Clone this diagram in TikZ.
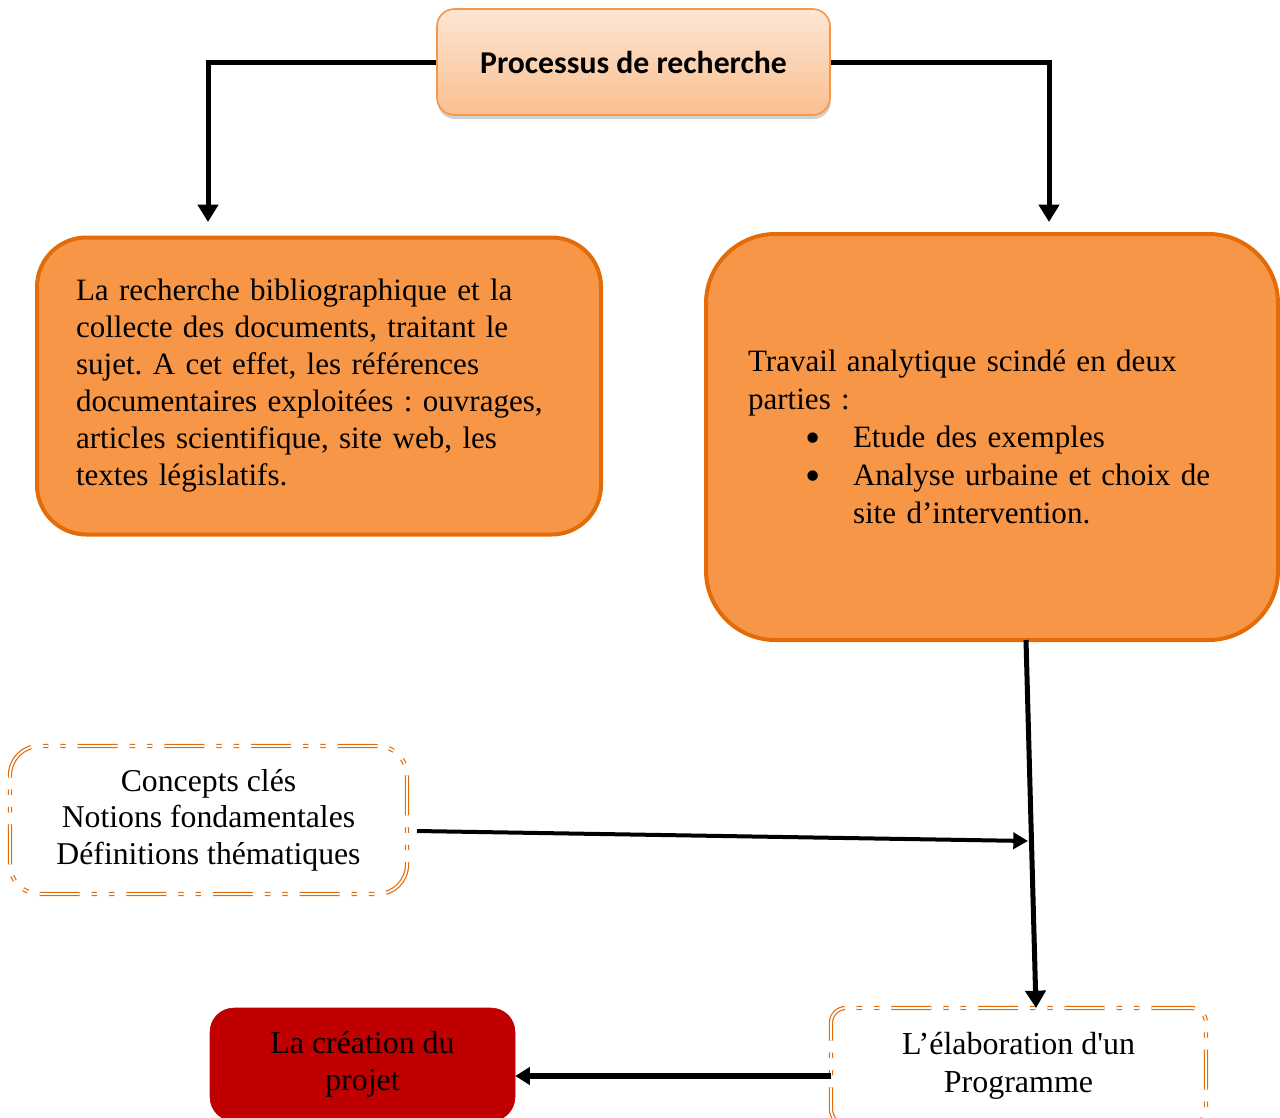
\documentclass[tikz,border=0pt]{standalone}
\usepackage{fontspec}
\setmainfont{Liberation Serif}
\newfontfamily\headfont{Carlito}
\usetikzlibrary{arrows.meta,shadows,calc}
\definecolor{orfill}{HTML}{F79646}
\definecolor{ordraw}{HTML}{E36C09}
\definecolor{peachtop}{HTML}{FDE6D4}
\definecolor{peachbot}{HTML}{FABF8F}
\definecolor{darkred}{HTML}{C00000}
\frenchspacing
\newcommand{\bigdot}{\smash{\raisebox{-0.32ex}{\scalebox{1.4}{\textbullet}}}}
\begin{document}
\begin{tikzpicture}[x=0.75pt,y=-0.75pt,
  every node/.style={inner sep=0pt},
  headbox/.style={draw=orfill, line width=1.2pt, rounded corners=13pt,
    top color=peachtop, bottom color=peachbot,
    drop shadow={shadow xshift=0.5pt, shadow yshift=-3pt, fill=black!40, opacity=0.45},
    minimum width=294.75pt, minimum height=79.5pt,
    font=\headfont\bfseries\fontsize{23.8}{28}\selectfont},
  orbox/.style={draw=ordraw, fill=orfill, line width=3pt, align=left},
  dashbox/.style={draw=ordraw, double=white, double distance=1.4pt, line width=0.9pt,
    dash pattern=on 30pt off 9pt on 4pt off 9pt on 4pt off 9pt, align=center},
  link/.style={line width=3.75pt, -{Triangle[length=13pt,width=15pt]}},
  thinlink/.style={line width=3pt, -{Triangle[length=11pt,width=12pt]}}
]
\useasboundingbox (0,0) rectangle (1280,1117);
\clip (0,0) rectangle (1280,1117);

% top heading
\node[headbox] (head) at (633.5,62) {Processus de recherche};

% two research strands
\node[orbox, rounded corners=37pt, minimum width=423pt, minimum height=222.75pt,
      text width=364.5pt, font=\fontsize{23.3}{27.75}\selectfont] (biblio) at (319,386)
  {La recherche bibliographique et la\\
   collecte des documents, traitant le\\
   sujet. A cet effet, les références\\
   documentaires exploitées : ouvrages,\\
   articles scientifique, site web, les\\
   textes législatifs.};

\node[orbox, rounded corners=52pt, minimum width=429pt, minimum height=304.5pt,
      text width=366pt, font=\fontsize{23.3}{28.5}\selectfont] (analyse) at (992,437)
  {Travail analytique scindé en deux\\
   parties :\\
   \hspace*{43pt}\makebox[35.75pt][l]{\bigdot}Etude des exemples\\
   \hspace*{43pt}\makebox[35.75pt][l]{\bigdot}Analyse urbaine et choix de\\
   \hspace*{78.75pt}site d’intervention.};

% concepts
\node[dashbox, rounded corners=22pt, minimum width=297.75pt, minimum height=111pt,
      font=\fontsize{23.8}{27.4}\selectfont] (concepts) at (208.5,820)
  {Concepts clés\\Notions fondamentales\\Définitions thématiques};

% programme and project
\node[dashbox, rounded corners=11pt, minimum width=281.25pt, minimum height=87pt,
      font=\fontsize{24}{28.5}\selectfont] (prog) at (1018.5,1066)
  {L’élaboration d\textquotesingle un\\Programme};

\node[draw=darkred, fill=darkred, rounded corners=18pt, minimum width=228.75pt,
      minimum height=84.75pt, align=center,
      font=\fontsize{23.9}{28}\selectfont] (projet) at (362.5,1064.5)
  {La création du\\projet};

% connectors
\coordinate (lend) at (208,222);
\coordinate (rend) at (1049,222);
\draw[link] (head.west) -| (lend);
\draw[link] (head.east) -| (rend);

\coordinate (astart) at (1026,640);
\coordinate (pend) at (1036,1008);
\draw[link] (astart) -- (pend);

\coordinate (cstart) at (417,831);
\coordinate (cend) at (1028,841);
\draw[thinlink] (cstart) -- (cend);

\coordinate (pstart) at (831,1076);
\draw[line width=4.5pt, -{Triangle[length=11pt,width=13pt]}] (pstart) -- (pstart -| projet.east);
\end{tikzpicture}
\end{document}
